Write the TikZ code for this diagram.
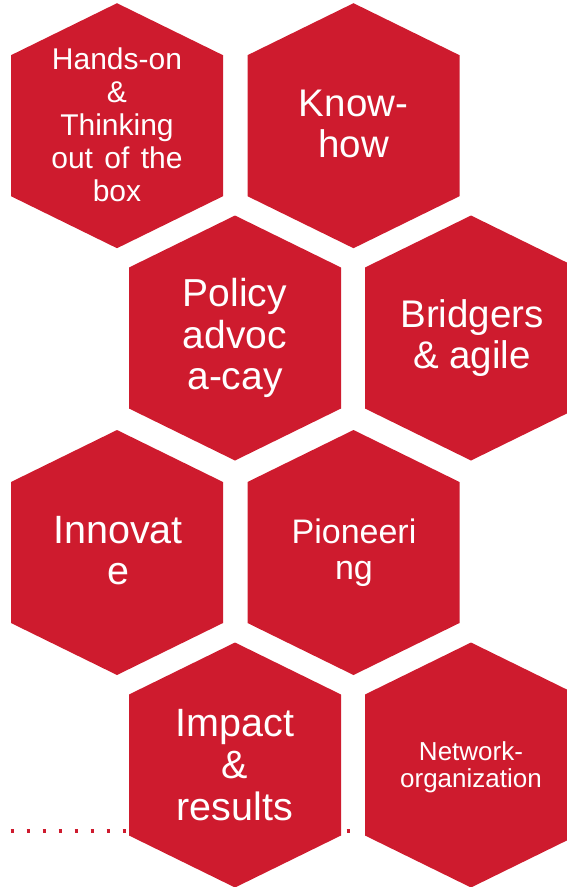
\documentclass[tikz,border=0pt]{standalone}
\usepackage{fontspec}
\setmainfont{Liberation Sans}
\definecolor{hexred}{RGB}{206,27,46}
\tikzset{
  hexfill/.style={fill=hexred, draw=none},
  hextext/.style={text=white, align=center, inner sep=0pt},
  dotline/.style={hexred, line width=3.5pt, dash pattern=on 3.5pt off 12.5pt}
}
\newcommand{\hexat}[2]{%
  \fill[hexfill] (#1,#2) ++(0,-122.5) -- ++(106,52) -- ++(0,141) -- ++(-106,52) -- ++(-106,-52) -- ++(0,-141) -- cycle;}
\begin{document}
\begin{tikzpicture}[x=1pt,y=-1pt]
\useasboundingbox (0,0) rectangle (566,887);
% dotted line behind hexagons
\coordinate (dl) at (10.55,831);
\coordinate (dr) at (352,831);
\draw[dotline] (dl) -- (dr);
% hexagons
\hexat{117}{125.7}
\hexat{353.5}{125.7}
\hexat{235}{338}
\hexat{471}{338}
\hexat{117}{552.5}
\hexat{353.5}{552.5}
\hexat{235}{765}
\hexat{471}{765}
% texts
\node[hextext, font=\fontsize{30}{33}\selectfont] (t1) at (117,125) {Hands-on\\\&\\Thinking\\out\hspace{0.38em}of\hspace{0.38em}the\\box};
\node[hextext, font=\fontsize{38.5}{41.7}\selectfont] (t2) at (353.5,124) {Know-\\how};
\node[hextext, font=\fontsize{39}{41.7}\selectfont] (t3) at (235,338) {Policy\\advoc\\a-cay};
\node[hextext, font=\fontsize{38.5}{40.7}\selectfont] (t4) at (472,338) {Bridgers\\\& agile};
\node[hextext, font=\fontsize{39.5}{41}\selectfont] (t5) at (118,551) {Innovat\\e};
\node[hextext, font=\fontsize{34}{35.7}\selectfont] (t6) at (354,553) {Pioneeri\\ng};
\node[hextext, font=\fontsize{39.5}{41.7}\selectfont] (t7) at (235,765) {Impact\\\&\\results};
\node[hextext, font=\fontsize{26}{26.7}\selectfont] (t8) at (471,767) {Network-\\organization};
\end{tikzpicture}
\end{document}
